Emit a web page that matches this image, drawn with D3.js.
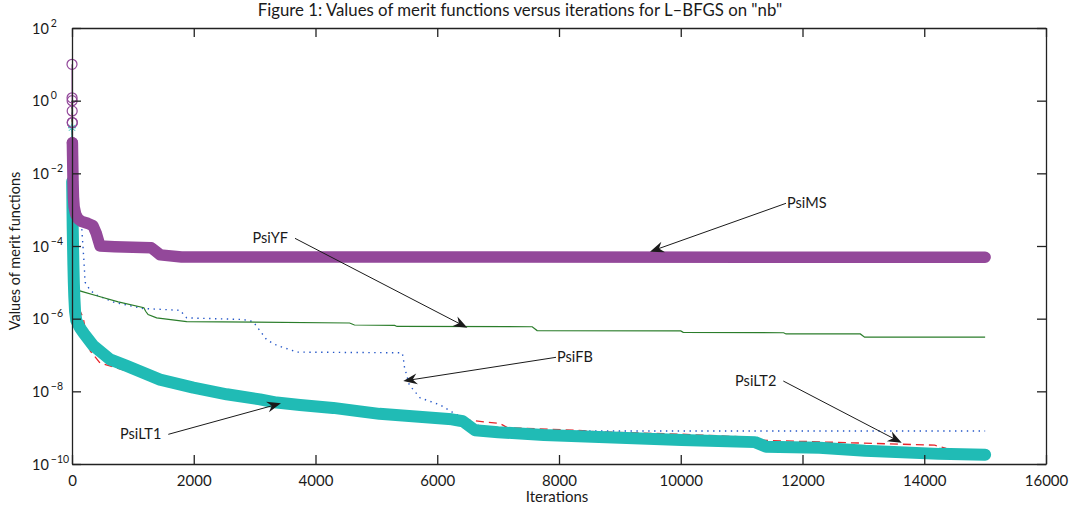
<!DOCTYPE html>
<html><head><meta charset="utf-8">
<script src="https://cdn.jsdelivr.net/npm/d3@7"></script>
<style>
body{margin:0;background:#fff}
svg{display:block}
text{font-family:Lato,"Open Sans",sans-serif;fill:#1a1a1a}
</style>
</head><body>
<svg id="chart" width="1080" height="512"></svg>
<script>
// ---------- data (iteration, merit value) ----------
const xTickValues = [0,2000,4000,6000,8000,10000,12000,14000,16000];
const yTickValues = [1e-10,1e-8,1e-6,1e-4,1e-2,1,100];
const yTickExponents = ["−10","−8","−6","−4","−2","0","2"];

const psiMS = [[0,10],[1,1.2],[2,1.0],[3,0.52],[4,0.25],[5,0.25],[6,0.07],
 [7,0.06],[10,0.03],[14,0.012],[18,0.005],[24,0.0022],[35,0.0012],[60,7.5e-4],[100,5.6e-4],[160,4.7e-4],
 [260,4.2e-4],[345,3.6e-4],[400,2.2e-4],[460,1.0e-4],[700,9.6e-5],[1300,9.0e-5],[1360,7.5e-5],[1450,5.7e-5],
 [1800,5.0e-5],[15000,4.9e-5]];
const psiMSSparse = 7;

const psiLT1 = [[0,0.18],[1,0.05],[2,0.015],[3,0.006],
 [5,0.003],[8,1e-3],[12,3e-4],[17,1e-4],[23,3e-5],[30,1e-5],[38,4e-6],[50,1.6e-6],[70,9e-7],[131,5.6e-7],
 [200,3.8e-7],[350,1.8e-7],[624,7.6e-8],[898,5.0e-8],[1445,2.1e-8],[1993,1.26e-8],[2541,8.3e-9],[3088,6.0e-9],
 [3362,4.9e-9],[3745,4.2e-9],[4290,3.5e-9],[4730,2.8e-9],[5050,2.4e-9],[5700,2.0e-9],[6240,1.7e-9],[6420,1.5e-9],
 [6620,8.5e-10],[7000,7.5e-10],[7750,6.3e-10],[9000,5.3e-10],[10015,4.6e-10],[11220,4.0e-10],[11400,3.0e-10],
 [12280,2.8e-10],[13030,2.3e-10],[14240,1.9e-10],[15000,1.8e-10]];
const psiLT1Sparse = 4;

const psiLT2 = [[0,1],[1,0.5],[2,0.25],[4,0.05],[8,5e-3],[15,5e-4],[25,5e-5],[40,8e-6],[80,2.5e-6],[185,1.05e-6],
 [230,4e-7],[300,1.3e-7],[460,6e-8],[734,4.4e-8],[1117,2.8e-8],[2000,1.05e-8],[2705,5.8e-9],[3500,4.2e-9],
 [4500,2.8e-9],[5500,2.0e-9],[6400,1.6e-9],[6580,1.57e-9],[7030,1.3e-9],[7150,1.0e-9],[8280,8.5e-10],
 [8660,7.7e-10],[10015,6.6e-10],[11000,5.6e-10],[11150,4.6e-10],[14170,3.3e-10],[14360,2.7e-10]];

const psiFB = [[0,1],[5,0.05],[20,3e-3],[60,8e-4],[130,4e-4],[160,3e-4],[180,1e-4],[200,3e-5],[215,1e-5],
 [300,6e-6],[400,4.5e-6],[700,2.8e-6],[1170,1.9e-6],[1774,1.7e-6],[1884,1.05e-6],[2810,9.5e-7],[2975,8.3e-7],
 [3200,2.6e-7],[3360,1.86e-7],[3700,1.2e-7],[5420,1.15e-7],[5440,9e-8],[5460,4.8e-8],[5540,1.5e-8],
 [5720,6.6e-9],[6050,4.2e-9],[6240,2.7e-9],[6390,2.0e-9],[6600,1.2e-9],[7200,9e-10],[8000,8.1e-10],[15000,8.1e-10]];

const psiYF = [[0,1],[5,0.02],[15,5e-4],[30,8e-5],[60,2e-5],[100,8e-6],[130,5.8e-6],[420,4.2e-6],[760,2.9e-6],
 [1180,2.0e-6],[1210,1.6e-6],[1250,1.3e-6],[1390,1.05e-6],[1884,8.3e-7],[4560,7.6e-7],[4640,6.7e-7],
 [5300,6.5e-7],[5340,6.1e-7],[7560,6.0e-7],[7640,4.7e-7],[10000,4.6e-7],[10040,4.2e-7],[11690,4.1e-7],
 [11730,3.8e-7],[12950,3.8e-7],[13020,3.1e-7],[15000,3.1e-7]];

const annotations = [
 {label:"PsiMS",  from:[11729,1.496e-3], to:[9495,6.97e-5],  anchor:"start"},
 {label:"PsiYF",  from:[3663,1.626e-4],  to:[6494,5.64e-7],  anchor:"end"},
 {label:"PsiFB",  from:[7951,8.63e-8],   to:[5442,1.92e-8],  anchor:"start"},
 {label:"PsiLT2", from:[11685,1.92e-8],  to:[13630,3.85e-10],anchor:"end"},
 {label:"PsiLT1", from:[1582,6.55e-10],  to:[3433,4.68e-9],  anchor:"end"}
];

const titleText = 'Figure 1: Values of merit functions versus iterations for L\u2013BFGS on "nb"';
const xLabel = "Iterations";
const yLabel = "Values of merit functions";

// ---------- layout ----------
const L = 72, R = 1046, T = 28, B = 464;
const svg = d3.select("#chart");
const x = d3.scaleLinear().domain([0,16000]).range([L,R]);
const y = d3.scaleLog().domain([1e-10,100]).range([B,T]);

const colors = {ms:"#93489a", lt1:"#20bbb5", lt2:"#e8262b", fb:"#2456c8", yf:"#2b7d2b"};
const line = d3.line().x(d=>x(d[0])).y(d=>y(d[1]));

const data = svg.append("g");
// thin lines
data.append("path").attr("d", line(psiLT2)).attr("fill","none").attr("stroke",colors.lt2)
  .attr("stroke-width",1.3).attr("stroke-dasharray","8,5");
data.append("path").attr("d", line(psiFB)).attr("fill","none").attr("stroke",colors.fb)
  .attr("stroke-width",1.4).attr("stroke-dasharray","1.4,4.5");
data.append("path").attr("d", line(psiYF)).attr("fill","none").attr("stroke",colors.yf)
  .attr("stroke-width",1.2);

// PsiLT1 band (dense star markers)
data.append("path").attr("d", line(psiLT1)).attr("fill","none").attr("stroke",colors.lt1).attr("stroke-width",1);
data.append("path").attr("d", line(psiLT1.slice(psiLT1Sparse-1))).attr("fill","none").attr("stroke",colors.lt1)
  .attr("stroke-width",12).attr("stroke-linejoin","round").attr("stroke-linecap","round");
data.selectAll(".star").data(psiLT1.slice(0,psiLT1Sparse)).join("g")
  .attr("transform", d=>`translate(${x(d[0])},${y(d[1])})`)
  .each(function(){
    const g = d3.select(this);
    [[-4,0,4,0],[0,-4,0,4],[-3,-3,3,3],[-3,3,3,-3]].forEach(s=>
      g.append("line").attr("x1",s[0]).attr("y1",s[1]).attr("x2",s[2]).attr("y2",s[3])
        .attr("stroke",colors.lt1).attr("stroke-width",1));
  });

// PsiMS band (dense circle markers)
data.append("path").attr("d", line(psiMS)).attr("fill","none").attr("stroke",colors.ms).attr("stroke-width",1);
data.append("path").attr("d", line(psiMS.slice(psiMSSparse-1))).attr("fill","none").attr("stroke",colors.ms)
  .attr("stroke-width",11.5).attr("stroke-linejoin","round").attr("stroke-linecap","round");
data.selectAll(".circ").data(psiMS.slice(0,psiMSSparse)).join("circle")
  .attr("cx",d=>x(d[0])).attr("cy",d=>y(d[1])).attr("r",5)
  .attr("fill","none").attr("stroke",colors.ms).attr("stroke-width",1.2);

// ---------- axes (inward ticks, box) ----------
const axStyle = g => { g.selectAll("path,line").attr("stroke","#222").attr("stroke-width",1.3);
  g.selectAll("text").attr("fill","#1a1a1a").style("font-family","Lato, 'Open Sans', sans-serif"); };

svg.append("g").attr("transform",`translate(0,${B})`)
  .call(d3.axisBottom(x).tickValues(xTickValues).tickSizeInner(-9).tickSizeOuter(0).tickPadding(11).tickFormat(d3.format("d")))
  .call(axStyle).call(g=>g.selectAll("text").attr("font-size",15));
svg.append("g").attr("transform",`translate(0,${T})`)
  .call(d3.axisTop(x).tickValues(xTickValues).tickSizeInner(-9).tickSizeOuter(0).tickFormat(""))
  .call(axStyle);
svg.append("g").attr("transform",`translate(${R},0)`)
  .call(d3.axisRight(y).tickValues(yTickValues).tickSizeInner(-9).tickSizeOuter(0).tickFormat(""))
  .call(axStyle);
const yAx = svg.append("g").attr("transform",`translate(${L},0)`)
  .call(d3.axisLeft(y).tickValues(yTickValues).tickSizeInner(-9).tickSizeOuter(0).tickFormat(""))
  .call(axStyle);
yAx.selectAll(".tick").each(function(d,i){
  const t = d3.select(this).select("text");
  t.attr("x",-40).attr("dy","0.35em").attr("text-anchor","start").attr("font-size",14.5).text("10");
  t.append("tspan").attr("dy",-7).attr("dx",2).attr("font-size",10.5).text(yTickExponents[i]);
});

// ---------- labels ----------
svg.append("text").attr("x",520).attr("y",16).attr("text-anchor","middle").attr("font-size",16.8).text(titleText);
svg.append("text").attr("x",557).attr("y",502).attr("text-anchor","middle").attr("font-size",15).text(xLabel);
svg.append("text").attr("transform","translate(20,251) rotate(-90)").attr("text-anchor","middle").attr("font-size",14.5).text(yLabel);

// ---------- annotations ----------
const ann = svg.append("g");
annotations.forEach(a=>{
  const x1=x(a.from[0]), y1=y(a.from[1]), x2=x(a.to[0]), y2=y(a.to[1]);
  const ang = Math.atan2(y2-y1,x2-x1)*180/Math.PI;
  const len = Math.hypot(x2-x1,y2-y1);
  ann.append("line").attr("x1",x1).attr("y1",y1).attr("x2",x1+(x2-x1)*(len-8)/len).attr("y2",y1+(y2-y1)*(len-8)/len)
    .attr("stroke","#1a1a1a").attr("stroke-width",1);
  ann.append("path").attr("d","M0,0L-14,-5.5L-9.5,0L-14,5.5Z").attr("fill","#1a1a1a")
    .attr("transform",`translate(${x2},${y2}) rotate(${ang})`);
  ann.append("text").attr("x", a.anchor==="start"? x1+1 : x1-7).attr("y",y1).attr("dy","0.35em")
    .attr("text-anchor",a.anchor).attr("font-size",14.5).text(a.label);
});
</script>
</body></html>
